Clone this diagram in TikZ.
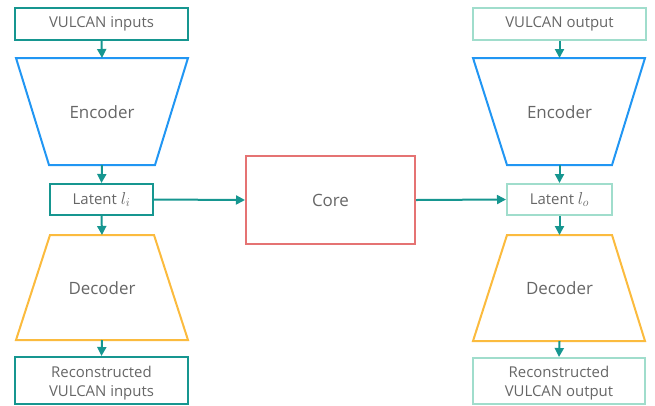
\documentclass[tikz,border=0pt]{standalone}
\usepackage{fontspec}
\setmainfont{Open Sans}
\usetikzlibrary{arrows.meta}

\definecolor{tealdark}{RGB}{22,150,144}
\definecolor{mint}{RGB}{160,221,204}
\definecolor{encblue}{RGB}{33,150,243}
\definecolor{decorange}{RGB}{251,187,62}
\definecolor{corered}{RGB}{229,115,115}
\definecolor{txtgray}{RGB}{102,102,102}

% latent symbol, set a little larger than the label text
\newcommand{\latentsym}[1]{\mbox{\fontsize{16.5}{19}\selectfont$l_{#1}$}}

\tikzset{
  iobox/.style={draw=#1, line width=2bp, rectangle, inner sep=0pt,
    text=txtgray, align=center, font=\fontsize{15}{19}\selectfont},
  encshape/.style={draw=encblue, line width=2bp, line join=miter},
  decshape/.style={draw=decorange, line width=2bp, line join=miter},
  bigtext/.style={text=txtgray, font=\fontsize{17}{20}\selectfont},
  flow/.style={draw=tealdark, line width=2bp, -{Triangle[length=9bp,width=9bp]}},
}

\begin{document}
\begin{tikzpicture}[x=1bp,y=-1bp]
\useasboundingbox (0,0) rectangle (655,405);

% ---------- input-side autoencoder ----------
\node[iobox=tealdark, minimum width=173bp, minimum height=32bp] (in1) at (101.5,24) {VULCAN inputs};
\draw[encshape] (16,58) -- (188,58) -- (155,165) -- (49,165) -- cycle;
\node[bigtext] (enc1) at (102,112) {Encoder};
\coordinate (enc1t) at (102,58);
\coordinate (enc1b) at (102,165);
\node[iobox=tealdark, minimum width=103bp, minimum height=31bp] (lat1) at (101.5,199.5) {Latent \latentsym{i}};
\draw[decshape] (50,235) -- (154,235) -- (188,340) -- (16,340) -- cycle;
\node[bigtext] (dec1) at (102,288) {Decoder};
\coordinate (dec1t) at (102,235);
\coordinate (dec1b) at (102,340);
\node[iobox=tealdark, minimum width=173bp, minimum height=47bp] (rec1) at (101.5,380.5) {};
\node[text=txtgray, align=center, font=\fontsize{15}{19}\selectfont] (rec1txt) at (101.5,383) {Reconstructed\\VULCAN inputs};

% ---------- output-side autoencoder ----------
\node[iobox=mint, minimum width=173bp, minimum height=32bp] (in2) at (559.5,24) {VULCAN output};
\draw[encshape] (473,58) -- (645,58) -- (612,165) -- (507,165) -- cycle;
\node[bigtext] (enc2) at (559.5,112) {Encoder};
\coordinate (enc2t) at (559.5,58);
\coordinate (enc2b) at (559.5,165);
\node[iobox=mint, minimum width=105bp, minimum height=31bp] (lat2) at (559.5,199.5) {Latent \latentsym{o}};
\draw[decshape] (507,235) -- (612,235) -- (645,341) -- (473,341) -- cycle;
\node[bigtext] (dec2) at (559.5,288) {Decoder};
\coordinate (dec2t) at (559.5,235);
\coordinate (dec2b) at (559.5,341);
\node[iobox=mint, minimum width=172bp, minimum height=46bp] (rec2) at (559,381) {};
\node[text=txtgray, align=center, font=\fontsize{15}{19}\selectfont] (rec2txt) at (559,383) {Reconstructed\\VULCAN output};

% ---------- core ----------
\node[draw=corered, line width=2bp, minimum width=169bp, minimum height=88bp,
      bigtext] (core) at (330.5,200) {Core};

% ---------- connectors ----------
\draw[flow] (in1.south) -- (enc1t);
\draw[flow] (enc1b) -- (lat1.north);
\draw[flow] (lat1.south) -- (dec1t);
\draw[flow] (dec1b) -- (rec1.north);
\draw[flow] (in2.south) -- (enc2t);
\draw[flow] (enc2b) -- (lat2.north);
\draw[flow] (lat2.south) -- (dec2t);
\draw[flow] (dec2b) -- (rec2.north);
\draw[flow] (lat1.east) -- (core.west);
\draw[flow] (core.east) -- (lat2.west);
\end{tikzpicture}
\end{document}
